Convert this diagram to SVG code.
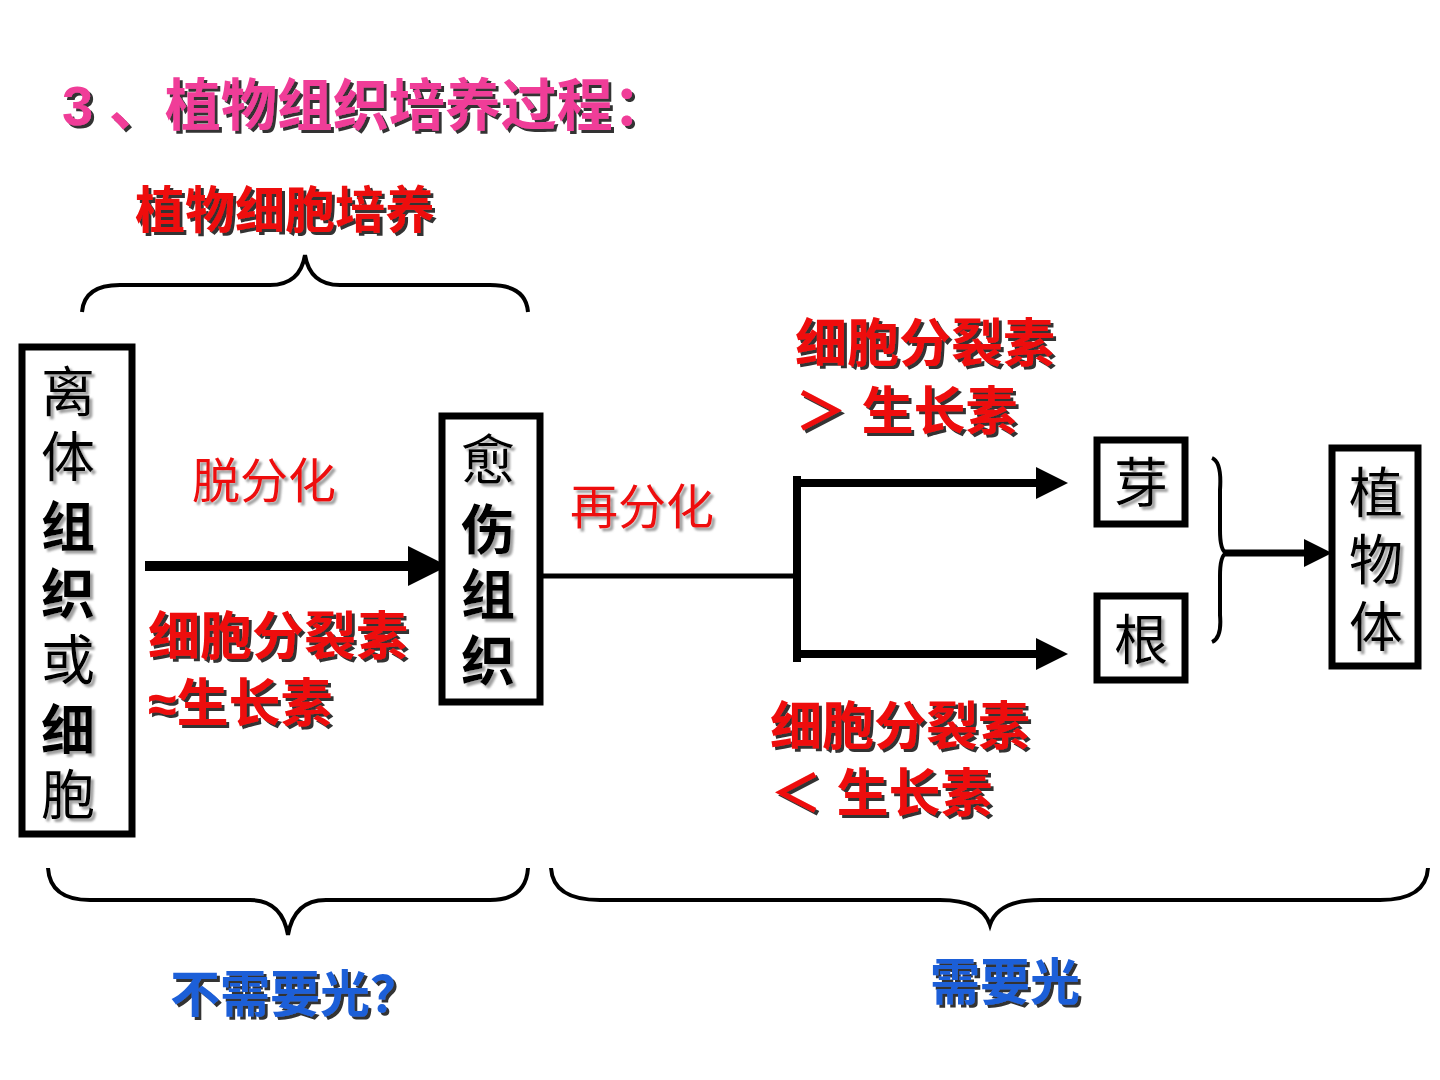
<svg xmlns="http://www.w3.org/2000/svg" width="1440" height="1080" viewBox="0 0 1440 1080">
<defs>
<style>
text{font-family:"Liberation Sans","Noto Sans CJK SC",sans-serif}
.sh{filter:url(#ds)}
.shg{filter:url(#dsg)}
.b{font-weight:bold}
.red{fill:#ee0a0a}
.blue{fill:#1f5fd8}
.box{fill:#fff;stroke:#000;stroke-width:7}
.ln{stroke:#000;fill:none}
.br{stroke:#000;fill:none;stroke-width:4}
.v{font-size:54px;text-anchor:middle}
</style>
<filter id="ds" x="-10%" y="-10%" width="130%" height="140%"><feDropShadow dx="3" dy="3" stdDeviation="0.5" flood-color="#000" flood-opacity="0.8"/></filter>
<filter id="dsg" x="-10%" y="-10%" width="130%" height="140%"><feDropShadow dx="3" dy="3" stdDeviation="1" flood-color="#888" flood-opacity="0.8"/></filter>
<marker id="ah" markerWidth="4" markerHeight="4" refX="0" refY="2" orient="auto" markerUnits="strokeWidth"><path d="M0,0 L4,2 L0,4 z" fill="#000"/></marker>
</defs>
<rect width="1440" height="1080" fill="#fff"/>
<text x="62" y="125" font-size="56" class="b sh" fill="#f03c98">3 、植物组织培养过程：</text>
<text x="135" y="228" font-size="50" class="b red sh">植物细胞培养</text>

<g id="connectors">
<path class="br" d="M82,312 Q84,285 120,285 L270,285 Q300,285 305,255 Q310,285 340,285 L490,285 Q526,285 528,312"/>
<line class="ln" x1="145" y1="566" x2="408" y2="566" stroke-width="10" marker-end="url(#ah)"/>
<line class="ln" x1="540" y1="576" x2="800" y2="576" stroke-width="5"/>
<line class="ln" x1="797" y1="476" x2="797" y2="662" stroke-width="8"/>
<line class="ln" x1="793" y1="483" x2="1036" y2="483" stroke-width="8" marker-end="url(#ah)"/>
<line class="ln" x1="793" y1="654" x2="1036" y2="654" stroke-width="8" marker-end="url(#ah)"/>
<path class="br" d="M1212,458 Q1222,462 1220,490 L1220,530 Q1220,550 1226,553 Q1220,556 1220,576 L1220,615 Q1222,638 1212,642" stroke-width="6"/>
<line class="ln" x1="1224" y1="553" x2="1304" y2="553" stroke-width="7" marker-end="url(#ah)"/>
<path class="br" d="M48,868 Q50,900 90,900 L250,900 Q282,900 288,935 Q294,900 326,900 L490,900 Q526,900 528,868"/>
<path class="br" d="M551,868 Q553,900 600,900 L940,900 Q982,900 990,925 Q998,900 1040,900 L1380,900 Q1426,900 1428,868"/>
</g>

<g id="n-left">
<rect class="box" x="22" y="347" width="110" height="487"/>
<text class="v shg" x="68" y="412">离</text>
<text class="v shg" x="68" y="477">体</text>
<text class="v b shg" x="68" y="547">组</text>
<text class="v b shg" x="68" y="614">织</text>
<text class="v shg" x="68" y="680">或</text>
<text class="v b shg" x="68" y="750">细</text>
<text class="v shg" x="68" y="815">胞</text>
</g>
<g id="n-callus">
<rect class="box" x="442" y="416" width="98" height="286"/>
<text class="v shg" x="488" y="480">愈</text>
<text class="v b shg" x="488" y="550">伤</text>
<text class="v b shg" x="488" y="615">组</text>
<text class="v b shg" x="488" y="681">织</text>
</g>
<g id="n-bud">
<rect class="box" x="1097" y="440" width="88" height="84"/>
<text class="v shg" x="1141" y="503" font-size="50">芽</text>
</g>
<g id="n-root">
<rect class="box" x="1097" y="596" width="88" height="84"/>
<text class="v shg" x="1141" y="660" font-size="50">根</text>
</g>
<g id="n-plant">
<rect class="box" x="1332" y="448" width="86" height="218"/>
<text class="v shg" x="1376" y="513">植</text>
<text class="v shg" x="1376" y="580">物</text>
<text class="v shg" x="1376" y="647">体</text>
</g>

<g id="labels">
<text x="192" y="498" font-size="48" class="red shg">脱分化</text>
<text x="148" y="655" font-size="52" class="b red sh">细胞分裂素</text>
<text x="148" y="722" font-size="52" class="b red sh">≈生长素</text>
<text x="570" y="524" font-size="48" class="red shg">再分化</text>
<text x="795" y="362" font-size="52" class="b red sh">细胞分裂素</text>
<text x="795" y="430" font-size="52" class="b red sh">＞ 生长素</text>
<text x="770" y="745" font-size="52" class="b red sh">细胞分裂素</text>
<text x="770" y="812" font-size="52" class="b red sh">＜ 生长素</text>
<text x="170" y="1012" font-size="50" class="b blue sh">不需要光？</text>
<text x="930" y="1000" font-size="50" class="b blue sh">需要光</text>
</g>
</svg>
